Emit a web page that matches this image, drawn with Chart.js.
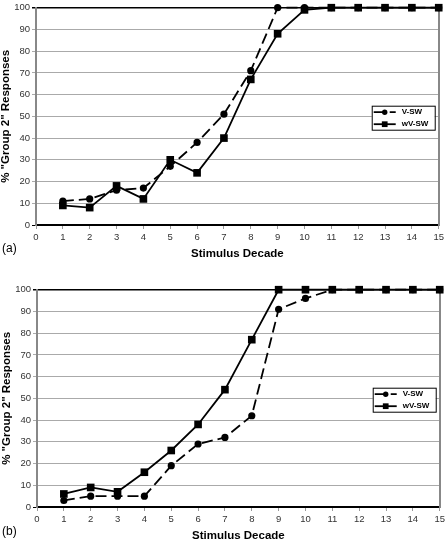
<!DOCTYPE html>
<html lang="en">
<head>
<meta charset="UTF-8">
<title>% "Group 2" Responses by Stimulus Decade</title>
<script src="https://cdn.jsdelivr.net/npm/chart.js"></script>
<style>
  html, body { margin: 0; padding: 0; background: #fff; overflow: hidden; }
  .wrap { position: absolute; width: 447px; height: 282px; }
  .panel-label { position: absolute; left: 2px; font: 12px "Liberation Sans", Arial, sans-serif; color: #000; line-height: 14px; }
</style>
</head>
<body>
<div class="wrap" style="top:0; left:0"><canvas id="chartA" width="447" height="282"></canvas></div>
<div class="wrap" style="top:282px; left:1px"><canvas id="chartB" width="447" height="282"></canvas></div>
<div class="panel-label" style="top:241px">(a)</div>
<div class="panel-label" style="top:524px">(b)</div>

<script>
// stimulus decades on the x axis
const decades = [1, 2, 3, 4, 5, 6, 7, 8, 9, 10, 11, 12, 13, 14, 15];
const seriesNames = ['V-SW', 'wV-SW'];

// panel (a)
const aVSW  = [11, 12, 16, 17, 27, 38, 51, 71, 100, 100, 100, 100, 100, 100, 100];
const aWVSW = [9, 8, 18, 12, 30, 24, 40, 67, 88, 99, 100, 100, 100, 100, 100];

// panel (b)
const bVSW  = [3, 5, 5, 5, 19, 29, 32, 42, 91, 96, 100, 100, 100, 100, 100];
const bWVSW = [6, 9, 7, 16, 26, 38, 54, 77, 100, 100, 100, 100, 100, 100, 100];

const xTitle = 'Stimulus Decade';
const yTitle = '% "Group 2" Responses';

Chart.defaults.font.family = '"Liberation Sans", Arial, sans-serif';

// boxed legend sitting inside the plot, right side
const boxLegend = {
    id: 'boxLegend',
    afterDraw(chart) {
        const { ctx, chartArea } = chart;
        const w = 63, h = 24;
        const left = chartArea.right - 67;
        const top = chartArea.top + 98;
        ctx.save();
        ctx.fillStyle = '#fff';
        ctx.fillRect(left, top, w, h);
        ctx.strokeStyle = '#000';
        ctx.lineWidth = 1;
        ctx.strokeRect(left + 0.5, top + 0.5, w, h);
        chart.data.datasets.forEach((ds, i) => {
            const y = top + 6.5 + i * 12;
            ctx.strokeStyle = ds.borderColor;
            ctx.lineWidth = ds.borderWidth;
            ctx.setLineDash(ds.borderDash || []);
            ctx.beginPath();
            ctx.moveTo(left + 2, y);
            ctx.lineTo(left + 24, y);
            ctx.stroke();
            ctx.setLineDash([]);
            ctx.fillStyle = '#000';
            Chart.helpers.drawPoint(ctx, { pointStyle: ds.pointStyle, radius: ds.pointRadius * 0.75, borderWidth: 0, rotation: 0 }, left + 13, y);
            ctx.font = 'bold 8px "Liberation Sans", Arial, sans-serif';
            ctx.textBaseline = 'middle';
            ctx.textAlign = 'left';
            ctx.fillText(ds.label, left + 30, y);
        });
        ctx.restore();
    }
};

function toPoints(values) {
    return decades.map((x, i) => ({ x: x, y: values[i] }));
}

function makeChart(id, vsw, wvsw) {
    const ctx = document.getElementById(id).getContext('2d');
    return new Chart(ctx, {
        type: 'line',
        data: {
            datasets: [
                {
                    label: seriesNames[0],
                    data: toPoints(vsw),
                    borderColor: '#000',
                    backgroundColor: '#000',
                    borderWidth: 1.8,
                    borderDash: [11, 5],
                    pointStyle: 'circle',
                    pointRadius: 3.6,
                    pointBorderWidth: 0,
                    tension: 0,
                    clip: false
                },
                {
                    label: seriesNames[1],
                    data: toPoints(wvsw),
                    borderColor: '#000',
                    backgroundColor: '#000',
                    borderWidth: 1.8,
                    pointStyle: 'rect',
                    pointRadius: 5.4,
                    pointBorderWidth: 0,
                    tension: 0,
                    clip: false
                }
            ]
        },
        options: {
            responsive: false,
            animation: false,
            layout: { padding: { top: 3, right: 6, left: 0, bottom: 0 } },
            plugins: {
                legend: { display: false },
                tooltip: { enabled: false }
            },
            scales: {
                x: {
                    type: 'linear',
                    min: 0,
                    max: 15,
                    ticks: { stepSize: 1, color: '#333', font: { size: 9.5 }, padding: 3, maxRotation: 0, autoSkip: false },
                    grid: { drawOnChartArea: false, drawTicks: true, tickLength: 4, color: '#999' },
                    border: { color: '#000', width: 1.5 },
                    title: {
                        display: true,
                        text: xTitle,
                        color: '#000',
                        font: { size: 11.5, weight: 'bold' },
                        padding: { top: 0, bottom: 21 }
                    },
                    afterFit: scale => { scale.height = 57; }
                },
                y: {
                    min: 0,
                    max: 100,
                    ticks: { stepSize: 10, color: '#333', font: { size: 9.5 }, padding: 2 },
                    grid: {
                        tickLength: 4,
                        color: c => (c.tick && (c.tick.value === 100 || c.tick.value === 0)) ? '#000' : '#aaa',
                        lineWidth: c => (c.tick && c.tick.value === 100) ? 1.5 : 1
                    },
                    border: { color: '#888', width: 2 },
                    title: {
                        display: true,
                        text: yTitle,
                        color: '#000',
                        font: { size: 11.5, weight: 'bold', lineHeight: 1 },
                        padding: 0
                    },
                    afterFit: scale => { scale.width = 36; }
                },
                yRight: {
                    position: 'right',
                    ticks: { display: false },
                    grid: { drawOnChartArea: false, drawTicks: false },
                    border: { color: '#888', width: 2 },
                    afterFit: scale => { scale.width = 0; }
                }
            }
        },
        plugins: [boxLegend]
    });
}

makeChart('chartA', aVSW, aWVSW);
makeChart('chartB', bVSW, bWVSW);
</script>
</body>
</html>
